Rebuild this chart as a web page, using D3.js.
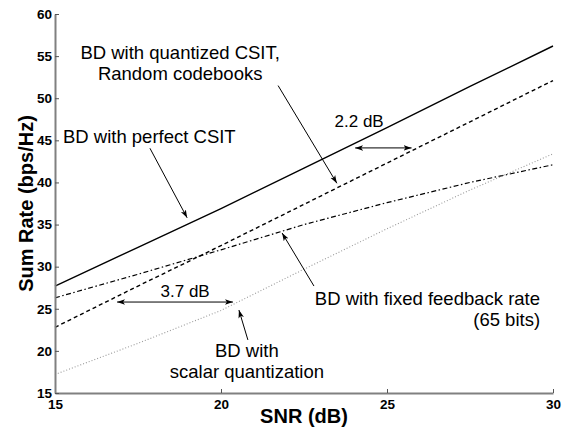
<!DOCTYPE html>
<html>
<head>
<meta charset="utf-8">
<script src="https://cdn.jsdelivr.net/npm/d3@7"></script>
<style>
  html, body { margin: 0; padding: 0; background: #fff; }
  svg { display: block; font-family: "Liberation Sans", Arial, Helvetica, sans-serif; }
</style>
</head>
<body>
<svg id="chart" width="569" height="433"></svg>
<script>
// ---- data ----
const snr = [15, 17.5, 20, 22.5, 25, 27.5, 30];
const perfectCSIT = [27.7, 32.3, 36.9, 41.7, 46.5, 51.4, 56.2];
const quantizedRandom = [22.8, 27.7, 32.5, 37.4, 42.3, 47.2, 52.1];
const fixedFeedback = [26.3, 29.1, 32.0, 35.0, 37.6, 40.0, 42.1];
const scalarQuant = [17.2, 20.9, 24.8, 29.7, 34.5, 39.1, 43.4];
const xTicks = [15, 20, 25, 30];
const yTicks = [15, 20, 25, 30, 35, 40, 45, 50, 55, 60];

// annotation texts (positions in data units)
const labels = [
  { lines: ["BD with quantized CSIT,", "Random codebooks"], x: 18.77, y: 54.62, anchor: "middle", size: 18.5 },
  { lines: ["BD with perfect CSIT"], x: 15.24, y: 44.66, anchor: "start", size: 18.5 },
  { lines: ["BD with fixed feedback rate", "(65 bits)"], x: 29.61, y: 25.44, anchor: "end", size: 18.5 },
  { lines: ["BD with", "scalar quantization"], x: 20.78, y: 19.27, anchor: "middle", size: 18.5 },
  { lines: ["2.2 dB"], x: 24.16, y: 46.55, anchor: "middle", size: 17 },
  { lines: ["3.7 dB"], x: 18.92, y: 26.39, anchor: "middle", size: 17 }
];
const pointers = [
  { x1: 21.72, y1: 51.5, x2: 23.49, y2: 39.9 },
  { x1: 17.86, y1: 44.06, x2: 18.98, y2: 35.8 },
  { x1: 22.8, y1: 27.7, x2: 21.84, y2: 34.0 },
  { x1: 20.81, y1: 21.3, x2: 20.54, y2: 24.85 }
];
const gaps = [
  { x1: 24.04, x2: 25.74, y: 44.1 },
  { x1: 16.87, x2: 20.36, y: 25.8 }
];

// ---- chart ----
const svg = d3.select("#chart");
const x = d3.scaleLinear().domain([15, 30]).range([55, 553]);
const y = d3.scaleLinear().domain([15, 60]).range([393, 14]);

const defs = svg.append("defs");
defs.append("marker")
  .attr("id", "arrow")
  .attr("viewBox", "0 0 10 10")
  .attr("refX", 10).attr("refY", 5)
  .attr("markerWidth", 8).attr("markerHeight", 8)
  .attr("markerUnits", "userSpaceOnUse")
  .attr("orient", "auto-start-reverse")
  .append("path")
  .attr("d", "M0,1.5 L10,5 L0,8.5 L2.5,5 Z")
  .attr("fill", "#000");

// series
const line = d3.line().x((d, i) => x(snr[i])).y(d => y(d));
const series = [
  { data: perfectCSIT, dash: null, color: "#000", width: 1.4 },
  { data: quantizedRandom, dash: "4,3", color: "#000", width: 1.4 },
  { data: fixedFeedback, dash: "5,2.5,1.5,2.5", color: "#000", width: 1.2 },
  { data: scalarQuant, dash: "1,2", color: "#999", width: 1.1 }
];
svg.append("g").selectAll("path").data(series).join("path")
  .attr("d", d => line(d.data))
  .attr("fill", "none")
  .attr("stroke", d => d.color)
  .attr("stroke-width", d => d.width)
  .attr("stroke-dasharray", d => d.dash);

// axes
const xAxis = d3.axisBottom(x).tickValues(xTicks).tickSizeInner(-4).tickSizeOuter(0).tickPadding(6);
const yAxis = d3.axisLeft(y).tickValues(yTicks).tickSizeInner(-4).tickSizeOuter(0).tickPadding(3);
function styleAxis(g) {
  g.select(".domain").attr("stroke", "#808080").attr("stroke-width", 2);
  g.selectAll(".tick line").attr("stroke", "#555").attr("stroke-width", 1);
  g.selectAll(".tick text").attr("fill", "#000")
    .attr("font-size", "13.5px").attr("font-weight", "bold")
    .attr("font-family", "'Liberation Sans', Arial, Helvetica, sans-serif");
}
svg.append("g").attr("transform", "translate(0,393)").call(xAxis).call(styleAxis);
svg.append("g").attr("transform", "translate(55,0)").call(yAxis).call(styleAxis);

// axis titles
svg.append("text")
  .attr("x", (x.range()[0] + x.range()[1]) / 2).attr("y", 423)
  .attr("text-anchor", "middle").attr("font-size", "20px").attr("font-weight", "bold")
  .text("SNR (dB)");
svg.append("text")
  .attr("transform", `translate(33,${(y.range()[0] + y.range()[1]) / 2}) rotate(-90)`)
  .attr("text-anchor", "middle").attr("font-size", "20px").attr("font-weight", "bold")
  .text("Sum Rate (bps/Hz)");

// pointer arrows
svg.append("g").selectAll("line").data(pointers).join("line")
  .attr("x1", d => x(d.x1)).attr("y1", d => y(d.y1))
  .attr("x2", d => x(d.x2)).attr("y2", d => y(d.y2))
  .attr("stroke", "#000").attr("stroke-width", 1)
  .attr("marker-end", "url(#arrow)");

// double arrows
svg.append("g").selectAll("line").data(gaps).join("line")
  .attr("x1", d => x(d.x1)).attr("y1", d => y(d.y))
  .attr("x2", d => x(d.x2)).attr("y2", d => y(d.y))
  .attr("stroke", "#000").attr("stroke-width", 1)
  .attr("marker-start", "url(#arrow)")
  .attr("marker-end", "url(#arrow)");

// labels
const lg = svg.append("g");
labels.forEach(l => {
  const t = lg.append("text")
    .attr("x", x(l.x)).attr("y", y(l.y))
    .attr("text-anchor", l.anchor)
    .attr("font-size", l.size + "px")
    .attr("fill", "#000");
  l.lines.forEach((s, i) => {
    t.append("tspan").attr("x", x(l.x)).attr("dy", i === 0 ? 0 : 21).text(s);
  });
});
</script>
</body>
</html>
